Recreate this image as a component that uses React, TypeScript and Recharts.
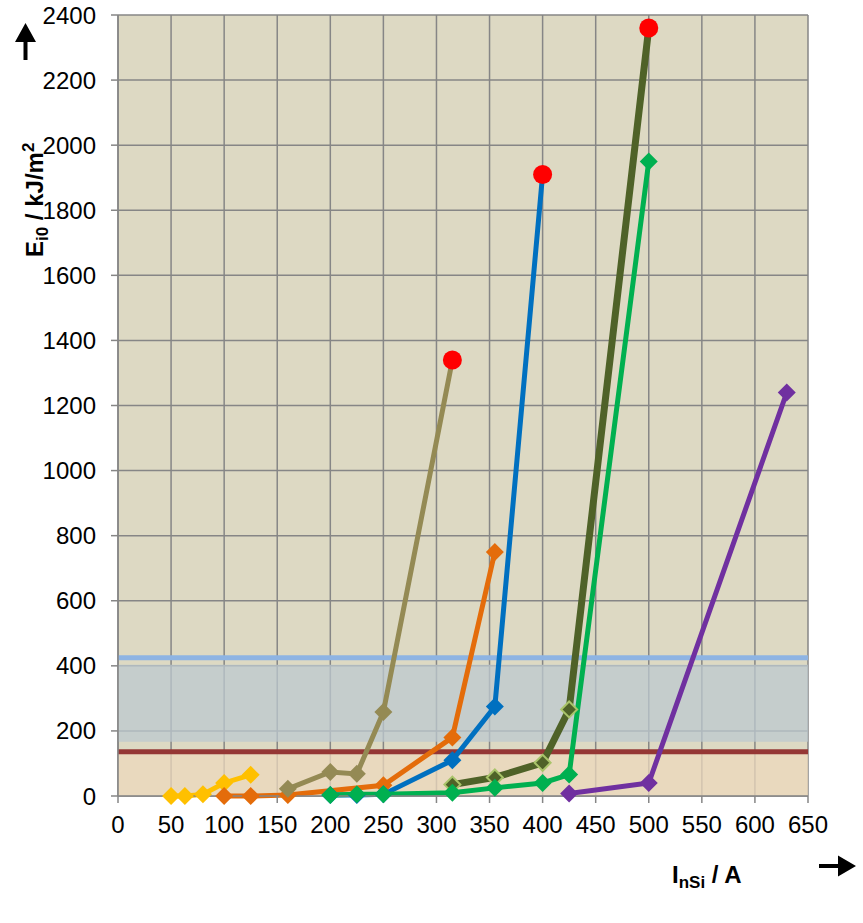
import React from "react";
import {
  ComposedChart, Line, Scatter, XAxis, YAxis, CartesianGrid, ReferenceArea, ReferenceLine,
} from "recharts";

// ── Axis ticks ─────────────────────────────────────────────────────────────
const xTicks = [0, 50, 100, 150, 200, 250, 300, 350, 400, 450, 500, 550, 600, 650];
const yTicks = [0, 200, 400, 600, 800, 1000, 1200, 1400, 1600, 1800, 2000, 2200, 2400];

// ── Series values (I / A, E / kJ/m²) ──────────────────────────────────────
const yellowX = [50, 63, 80, 100, 125];
const yellowY = [0, 0, 5, 40, 65];

const orangeX = [100, 125, 160, 250, 315, 355];
const orangeY = [0, 0, 3, 33, 180, 750];

const khakiX = [160, 200, 225, 250, 315];
const khakiY = [22, 74, 68, 258, 1340];

const blueX = [200, 225, 250, 315, 355, 400];
const blueY = [3, 3, 5, 110, 275, 1910];

const oliveX = [315, 355, 400, 425, 500];
const oliveY = [35, 57, 102, 266, 2360];

const greenX = [200, 225, 250, 315, 355, 400, 425, 500];
const greenY = [3, 5, 5, 10, 25, 40, 66, 1950];

const purpleX = [425, 500, 630];
const purpleY = [8, 40, 1240];

// end points marked with red circles
const redX = [315, 400, 500];
const redY = [1340, 1910, 2360];

// limit bands / lines
const blueBand = [167, 403];
const peachBand = [0, 136];
const blueLimit = 425;
const redLimit = 136;

const zip = (xs: number[], ys: number[]) => xs.map((x, i) => ({ x, y: ys[i] }));

const FONT = "'Liberation Sans', Arial, sans-serif";

// diamond marker; skipLast leaves room for the red end circle
function diamondDot(fill: string, size: number, count: number, skipLast: boolean, stroke?: string) {
  return (props: any) => {
    const { cx, cy, index } = props;
    if (cx == null || cy == null || (skipLast && index === count - 1)) {
      return <g key={`d-${index}`} />;
    }
    return (
      <path
        key={`d-${index}`}
        d={`M${cx},${cy - size} L${cx + size},${cy} L${cx},${cy + size} L${cx - size},${cy} Z`}
        fill={fill}
        stroke={stroke ?? "none"}
        strokeWidth={stroke ? 2 : 0}
      />
    );
  };
}

function RedDot(props: any) {
  const { cx, cy } = props;
  return <circle cx={cx} cy={cy} r={9.5} fill="#FF0000" />;
}

export default function App() {
  const tickStyle = { fill: "#000", fontSize: 24, fontFamily: FONT };
  return (
    <div style={{ position: "relative", width: 863, height: 923 }}>
      <style>{"body{margin:0}"}</style>
      <ComposedChart
        width={863}
        height={923}
        margin={{ top: 15, right: 55, bottom: 97, left: 58 }}
      >
        <CartesianGrid fill="#DDD9C3" stroke="#868686" strokeWidth={1.5} />
        <XAxis
          type="number"
          dataKey="x"
          domain={[0, 650]}
          ticks={xTicks}
          interval={0}
          height={30}
          tick={tickStyle}
          tickSize={7}
          tickMargin={13}
          stroke="#868686"
          strokeWidth={1.5}
        />
        <YAxis
          type="number"
          dataKey="y"
          domain={[0, 2400]}
          ticks={yTicks}
          interval={0}
          width={60}
          tick={tickStyle}
          tickSize={7}
          tickMargin={15}
          stroke="#868686"
          strokeWidth={1.5}
        />
        <ReferenceArea y1={blueBand[0]} y2={blueBand[1]} fill="#BCC8CF" fillOpacity={0.75} stroke="none" />
        <ReferenceArea y1={peachBand[0]} y2={peachBand[1]} fill="#ECD8BC" fillOpacity={0.75} stroke="none" />
        <ReferenceLine y={blueLimit} stroke="#8EB4E3" strokeWidth={5} />
        <ReferenceLine y={redLimit} stroke="#953735" strokeWidth={5} />

        <Line data={zip(yellowX, yellowY)} dataKey="y" stroke="#FFC000" strokeWidth={5}
          dot={diamondDot("#FFC000", 9, yellowX.length, false)} activeDot={false} isAnimationActive={false} />
        <Line data={zip(orangeX, orangeY)} dataKey="y" stroke="#E46C0A" strokeWidth={5}
          dot={diamondDot("#E46C0A", 9, orangeX.length, false)} activeDot={false} isAnimationActive={false} />
        <Line data={zip(khakiX, khakiY)} dataKey="y" stroke="#948A54" strokeWidth={5}
          dot={diamondDot("#948A54", 9, khakiX.length, true)} activeDot={false} isAnimationActive={false} />
        <Line data={zip(blueX, blueY)} dataKey="y" stroke="#0070C0" strokeWidth={5}
          dot={diamondDot("#0070C0", 9, blueX.length, true)} activeDot={false} isAnimationActive={false} />
        <Line data={zip(oliveX, oliveY)} dataKey="y" stroke="#4F6228" strokeWidth={7}
          dot={diamondDot("#4F6228", 8, oliveX.length, true, "#A9C46A")} activeDot={false} isAnimationActive={false} />
        <Line data={zip(greenX, greenY)} dataKey="y" stroke="#00B050" strokeWidth={5}
          dot={diamondDot("#00B050", 9, greenX.length, false)} activeDot={false} isAnimationActive={false} />
        <Line data={zip(purpleX, purpleY)} dataKey="y" stroke="#7030A0" strokeWidth={5}
          dot={diamondDot("#7030A0", 9, purpleX.length, false)} activeDot={false} isAnimationActive={false} />
        <Scatter data={zip(redX, redY)} dataKey="y" shape={<RedDot />} isAnimationActive={false} />
      </ComposedChart>

      {/* axis titles and arrows */}
      <svg
        width={863}
        height={923}
        style={{ position: "absolute", left: 0, top: 0, pointerEvents: "none" }}
      >
        <path d="M23.5,60 L23.5,42 L15,42 L25.5,23 L36,42 L27.5,42 L27.5,60 Z" fill="#000" />
        <path d="M819,864 L838,864 L838,855.5 L856,866 L838,876.5 L838,868 L819,868 Z" fill="#000" />
        <text
          x={43}
          y={257}
          transform="rotate(-90 43 257)"
          fontFamily={FONT}
          fontWeight="bold"
          fontSize={24}
          fill="#000"
        >
          E<tspan fontSize={17} dy={5}>i0</tspan>
          <tspan dy={-5}> / kJ/m</tspan>
          <tspan fontSize={17} dy={-9}>2</tspan>
        </text>
        <text x={672} y={883} fontFamily={FONT} fontWeight="bold" fontSize={24} fill="#000">
          I<tspan fontSize={17} dy={5}>nSi</tspan>
          <tspan dy={-5}> / A</tspan>
        </text>
      </svg>
    </div>
  );
}
